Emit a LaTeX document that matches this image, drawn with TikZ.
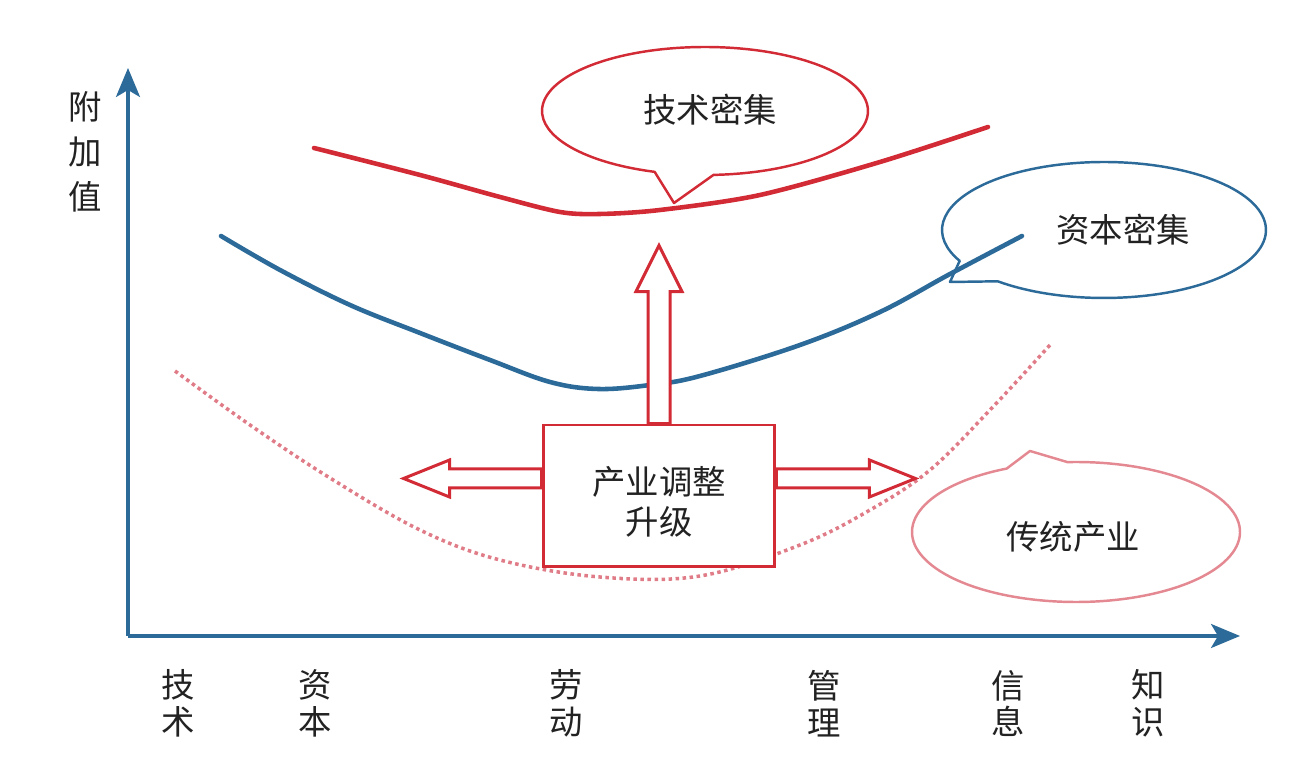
\documentclass[tikz,border=0pt]{standalone}
\usepackage{fontspec}
\newfontfamily\cjk{Noto Sans CJK SC}
\usetikzlibrary{arrows.meta,calc}
\definecolor{cred}{HTML}{D22B36}
\definecolor{cblue}{HTML}{2C6A9A}
\definecolor{cpink}{HTML}{E48892}
\definecolor{cdot}{HTML}{E07C88}
\definecolor{ctext}{HTML}{222222}
\begin{document}
\begin{tikzpicture}[x=0.02cm,y=0.02cm,
  lbl/.style={font=\cjk\fontsize{19pt}{23pt}\selectfont, text=ctext, align=center, inner sep=0pt},
  axis/.style={cblue, line width=1.9pt, -{Stealth[length=0.58cm,width=0.48cm,inset=0.14cm]}},
  bubble/.style={line width=1.4pt, fill=white, line join=round},
  curve/.style={line width=2.6pt, line cap=round},
  dotcurve/.style={line width=2pt, cdot, dash pattern=on 2pt off 2pt},
  box/.style={draw=cred, line width=1.7pt, fill=white, minimum width=4.64cm, minimum height=2.84cm, inner sep=0pt},
  fatarrow/.style={draw=cred, line width=1.7pt, fill=white, line join=miter}]
\useasboundingbox (0,0) rectangle (1312,763);

% axes
\coordinate (O) at (128,127);
\coordinate (ytip) at (128,695);
\coordinate (xtip) at (1240,127);
\draw[axis] (O) -- (ytip);
\draw[axis] (O) -- (xtip);

% axis labels
\node[lbl, font=\cjk\fontsize{19pt}{25.6pt}\selectfont] (ylab) at (85,611) {附\\加\\值};
\node[lbl, font=\cjk\fontsize{19pt}{21pt}\selectfont] (x1) at (178,59.5) {技\\术};
\node[lbl, font=\cjk\fontsize{19pt}{21pt}\selectfont] (x2) at (315,59.5) {资\\本};
\node[lbl, font=\cjk\fontsize{19pt}{21pt}\selectfont] (x3) at (566,59.5) {劳\\动};
\node[lbl, font=\cjk\fontsize{19pt}{21pt}\selectfont] (x4) at (824,59.5) {管\\理};
\node[lbl, font=\cjk\fontsize{19pt}{21pt}\selectfont] (x5) at (1008,59.5) {信\\息};
\node[lbl, font=\cjk\fontsize{19pt}{21pt}\selectfont] (x6) at (1148,59.5) {知\\识};

% speech bubbles
\coordinate (c1) at (705,652);
\draw[bubble, draw=cred] ($(c1)+(-87:3.26cm and 1.28cm)$)
  arc[start angle=-87, end angle=252, x radius=3.26cm, y radius=1.28cm] -- (674,560) -- cycle;
\coordinate (c2) at (1104,533);
\draw[bubble, draw=cblue] ($(c2)+(-131:3.24cm and 1.36cm)$)
  arc[start angle=-131, end angle=207, x radius=3.24cm, y radius=1.36cm] -- (950,481) -- cycle;
\coordinate (c3) at (1076,231);
\draw[bubble, draw=cpink] ($(c3)+(115:3.28cm and 1.40cm)$)
  arc[start angle=115, end angle=453, x radius=3.28cm, y radius=1.40cm] -- (1030,312) -- cycle;

\node[lbl] (t1) at (710,653) {技术密集};
\node[lbl] (t2) at (1123,533) {资本密集};
\node[lbl] (t3) at (1073,226) {传统产业};

% curves
\draw[curve, cred] plot[smooth, tension=0.5] coordinates
  {(314,615) (420,588) (500,566) (560,551) (600,549) (660,553) (760,568) (880,601) (988,636)};
\draw[curve, cblue] plot[smooth, tension=0.6] coordinates
  {(221,527) (280,493) (350,458) (420,430) (490,403) (550,381) (598,374) (650,378) (700,387) (800,418) (880,451) (950,489) (1022,527)};
\draw[dotcurve] plot[smooth, tension=0.6] coordinates
  {(175,392) (250,338) (330,285) (420,233) (500,203) (600,186) (700,187) (800,218) (870,253) (930,293) (990,353) (1050,418)};

% central box
\node[box] (box) at (659,267) {};
\node[lbl] (boxtext) at (659,261) {产业调整\\升级};

% fat arrows
\draw[fatarrow] ($(box.north)+(-11,0)$) -- ++(0,132) -- ++(-12,0) -- ++(23,46) -- ++(23,-46) -- ++(-12,0) -- ++(0,-132) -- cycle;
\draw[fatarrow] ($(box.west)+(0,27)$) -- ++(-92,0) -- ++(0,9) -- ++(-46,-18.5) -- ++(46,-18.5) -- ++(0,9) -- ++(92,0) -- cycle;
\draw[fatarrow] ($(box.east)+(0,27)$) -- ++(93,0) -- ++(0,9) -- ++(46,-18.5) -- ++(-46,-18.5) -- ++(0,9) -- ++(-93,0) -- cycle;
\end{tikzpicture}
\end{document}
